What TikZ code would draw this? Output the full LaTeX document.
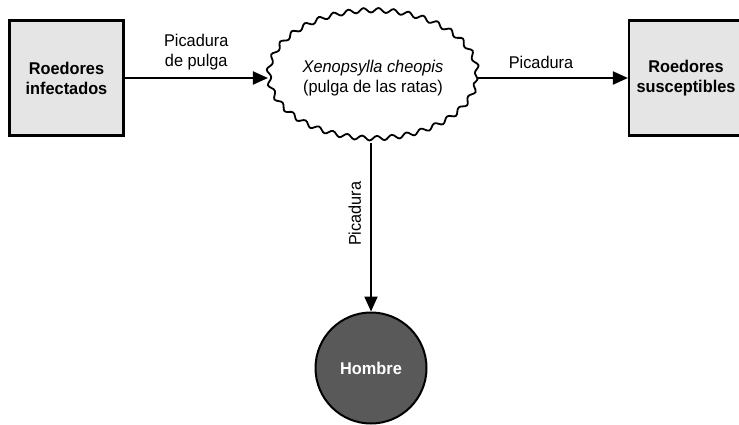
\documentclass[tikz,border=0pt]{standalone}
\usepackage{fontspec}
\setmainfont{Liberation Sans}[FakeStretch=0.96]
\usetikzlibrary{arrows.meta,shapes.geometric,decorations.pathmorphing}
\begin{document}
\begin{tikzpicture}[x=1pt,y=-1pt,
  font=\fontsize{17}{20}\selectfont,
  rodent/.style={draw=black,line width=2.2pt,fill=black!10,minimum width=114pt,minimum height=115pt,align=center,font=\fontsize{17}{20}\selectfont\bfseries},
  flea/.style={ellipse,draw=black,line width=1.8pt,fill=white,minimum width=192pt,minimum height=128pt,align=center,decorate,decoration={snake,segment length=15pt,amplitude=2.3pt}},
  human/.style={circle,draw=black,line width=2pt,fill=black!65,minimum size=111pt,text=white,font=\fontsize{17}{20}\selectfont\bfseries},
  link/.style={line width=2pt,-{Triangle[length=15pt,width=13pt]}},
  lbl/.style={align=center,inner sep=0pt}]
\useasboundingbox (0,0) rectangle (739,425);
\clip (0,0) rectangle (739,425);
\node[rodent] (inf) at (66.5,78) {Roedores\\infectados};
\node[rodent] (sus) at (686,78) {Roedores\\susceptibles};
\node[flea] (xc) at (373,78) {\itshape Xenopsylla cheopis\\(pulga de las ratas)};
\node[human] (hom) at (371,368) {Hombre};
\draw[link] (inf.east) -- (xc.west) node[lbl,midway,above=7pt] {Picadura\\de pulga};
\draw[link] (xc.east) -- (sus.west) node[lbl,pos=0.42,above=8pt] {Picadura};
\draw[link] (xc.south -| hom.north) -- (hom.north) node[lbl,pos=0.42,left=9pt,rotate=90,anchor=south] {Picadura};
\end{tikzpicture}
\end{document}
